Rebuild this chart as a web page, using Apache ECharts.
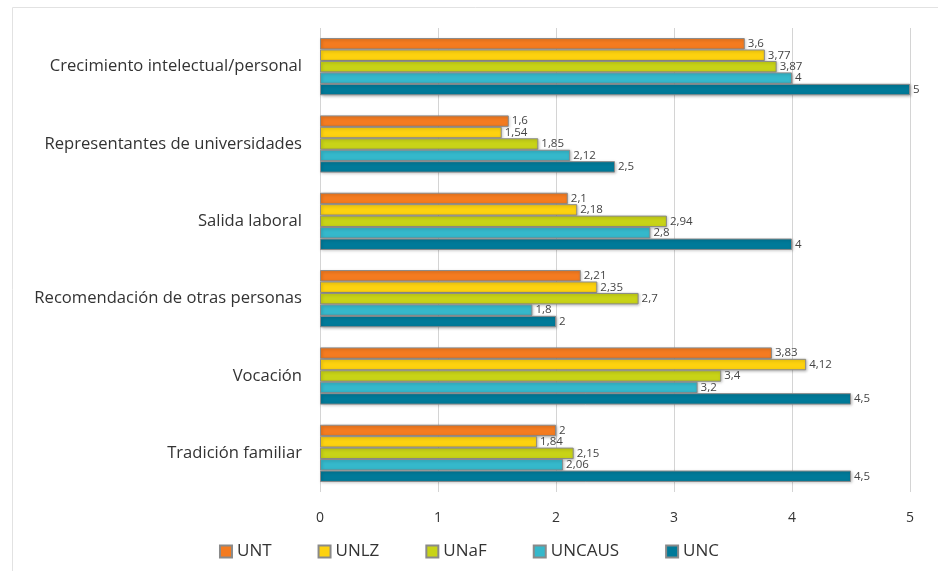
<!DOCTYPE html>
<html>
<head>
<meta charset="utf-8">
<script src="https://cdn.jsdelivr.net/npm/echarts@6/dist/echarts.min.js"></script>
<style>
  html, body { margin: 0; padding: 0; background: #fff; }
  #chart { width: 938px; height: 571px; }
</style>
</head>
<body>
<div id="chart"></div>
<script>
// categories, top to bottom
var categories = [
    'Crecimiento intelectual/personal',
    'Representantes de universidades',
    'Salida laboral',
    'Recomendación de otras personas',
    'Vocación',
    'Tradición familiar'
];
// one array per university, same order as categories
var unt = [3.6, 1.6, 2.1, 2.21, 3.83, 2];
var unlz = [3.77, 1.54, 2.18, 2.35, 4.12, 1.84];
var unaf = [3.87, 1.85, 2.94, 2.7, 3.4, 2.15];
var uncaus = [4, 2.12, 2.8, 1.8, 3.2, 2.06];
var unc = [5, 2.5, 4, 2, 4.5, 4.5];
var xTicks = [0, 1, 2, 3, 4, 5];

var seriesNames = ['UNT', 'UNLZ', 'UNaF', 'UNCAUS', 'UNC'];
var seriesData = [unt, unlz, unaf, uncaus, unc];
var colors = ['#f47b20', '#fdd20f', '#c8d317', '#35b8cb', '#007a99'];

var chart = echarts.init(document.getElementById('chart'));

var series = [];
for (var i = 0; i < seriesNames.length; i++) {
    series.push({
        name: seriesNames[i],
        type: 'bar',
        data: seriesData[i],
        barGap: '0%',
        barCategoryGap: '26%',
        itemStyle: {
            color: colors[i],
            borderColor: '#8a8a8a',
            borderWidth: 1,
            shadowColor: 'rgba(0,0,0,0.25)',
            shadowBlur: 3,
            shadowOffsetX: 1,
            shadowOffsetY: 1
        },
        label: {
            show: true,
            position: 'right',
            distance: 3,
            fontFamily: 'Open Sans',
            fontSize: 11.5,
            color: '#444',
            // comma as decimal separator
            formatter: function (p) { return String(p.value).replace('.', ','); }
        }
    });
}

var option = {
    animation: false,
    color: colors,
    textStyle: { fontFamily: 'Open Sans' },
    graphic: [{
        type: 'rect',
        shape: { x: 12.5, y: 7.5, width: 940, height: 580 },
        style: { fill: 'none', stroke: '#e2e2e2', lineWidth: 1 },
        silent: true
    }],
    grid: {
        left: 320,
        right: 28,
        top: 28,
        bottom: 79
    },
    legend: {
        left: 'center',
        bottom: 6,
        itemWidth: 12,
        itemHeight: 12,
        itemGap: 46,
        icon: 'rect',
        textStyle: { fontFamily: 'Open Sans', fontSize: 17, color: '#333' },
        data: seriesNames
    },
    xAxis: {
        type: 'value',
        min: xTicks[0],
        max: xTicks[xTicks.length - 1],
        interval: 1,
        axisLine: { show: false },
        axisTick: { show: false },
        splitLine: { show: true, lineStyle: { color: '#d4d4d4' } },
        axisLabel: { fontFamily: 'Open Sans', fontSize: 14, color: '#333', margin: 19 }
    },
    yAxis: {
        type: 'category',
        inverse: true,
        data: categories,
        axisLine: { show: false },
        axisTick: { show: false },
        axisLabel: { fontFamily: 'Open Sans', fontSize: 16.6, color: '#333', margin: 18 }
    },
    series: series
};

chart.setOption(option);
</script>
</body>
</html>
